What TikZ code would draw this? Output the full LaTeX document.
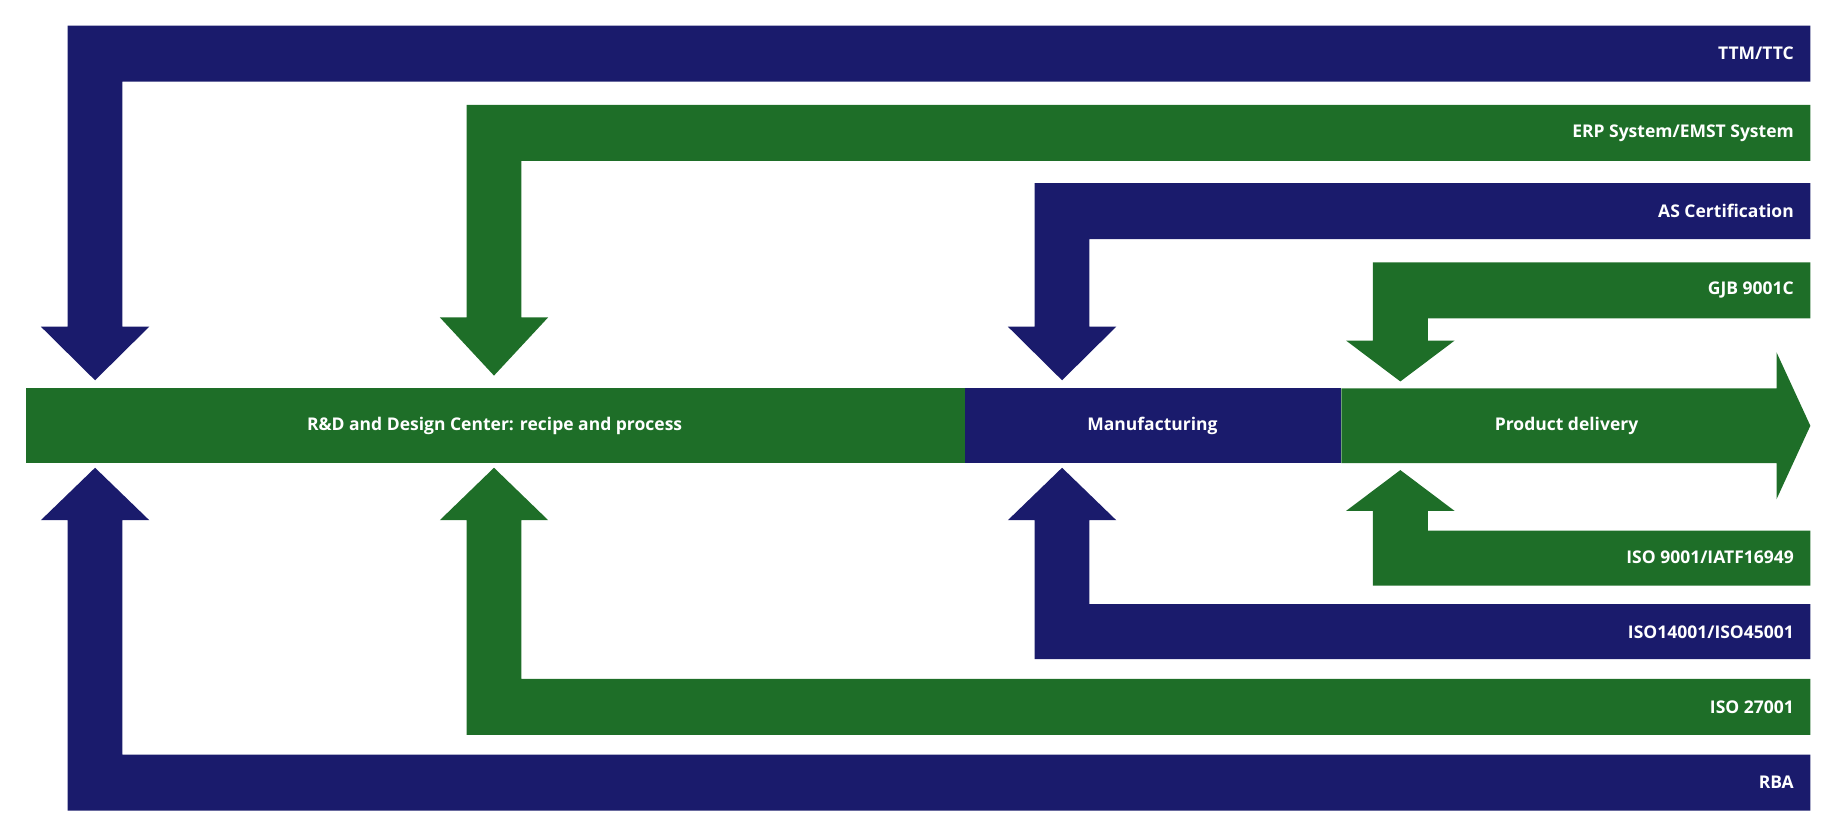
\documentclass[tikz,border=0pt]{standalone}
\usepackage{fontspec}
\setmainfont{Open Sans}
\definecolor{nblue}{HTML}{1A1B6C}
\definecolor{ngreen}{HTML}{1E6E28}
\begin{document}
\begin{tikzpicture}[x=1pt,y=-1pt,
  lbl/.style={text=white,font=\bfseries\fontsize{15}{18}\selectfont,anchor=east,inner sep=0pt},
  mlbl/.style={text=white,font=\bfseries\fontsize{15}{18}\selectfont,inner sep=0pt}]
\useasboundingbox (0,0) rectangle (1568,715);
% top L-arrows: x1, band top, band bottom, head base y, tip y
\newcommand{\topL}[6]{%
  \fill[#6] (#1,#2) -- (1552,#2) -- (1552,#3) -- ({#1+47},#3) -- ({#1+47},#4) -- ({#1+70},#4)
   -- ({#1+23.5},#5) -- ({#1-23},#4) -- (#1,#4) -- cycle;}
\topL{58}{22}{70}{280}{326}{nblue}
\topL{400}{90}{138}{272}{322}{ngreen}
\topL{887}{157}{205}{280}{326}{nblue}
\topL{1177}{225}{273}{292}{327}{ngreen}
\topL{58}{695}{647}{446}{401}{nblue}
\topL{400}{630}{582}{446}{401}{ngreen}
\topL{887}{565}{518}{446}{401}{nblue}
\topL{1177}{502}{455}{438}{403}{ngreen}
% main bar
\fill[ngreen] (22,333) rectangle (827,397);
\fill[nblue] (827,333) rectangle (1150,397);
\fill[ngreen] (1150,333) -- (1523,333) -- (1523,302) -- (1552,365) -- (1523,428) -- (1523,397) -- (1150,397) -- cycle;
\node[mlbl] (rd) at (424,365) {R\&D and Design Center: recipe and process};
\node[mlbl] (mf) at (988,365) {Manufacturing};
\node[mlbl] (pd) at (1343,365) {Product delivery};
\node[lbl] (t1) at (1538,46) {TTM/TTC};
\node[lbl] (t2) at (1538,114) {ERP System/EMST System};
\node[lbl] (t3) at (1538,181) {AS Certification};
\node[lbl] (t4) at (1538,249) {GJB 9001C};
\node[lbl] (b1) at (1538,478) {ISO 9001/IATF16949};
\node[lbl] (b2) at (1538,542) {ISO14001/ISO45001};
\node[lbl] (b3) at (1538,606) {ISO 27001};
\node[lbl] (b4) at (1538,671) {RBA};
\end{tikzpicture}
\end{document}
